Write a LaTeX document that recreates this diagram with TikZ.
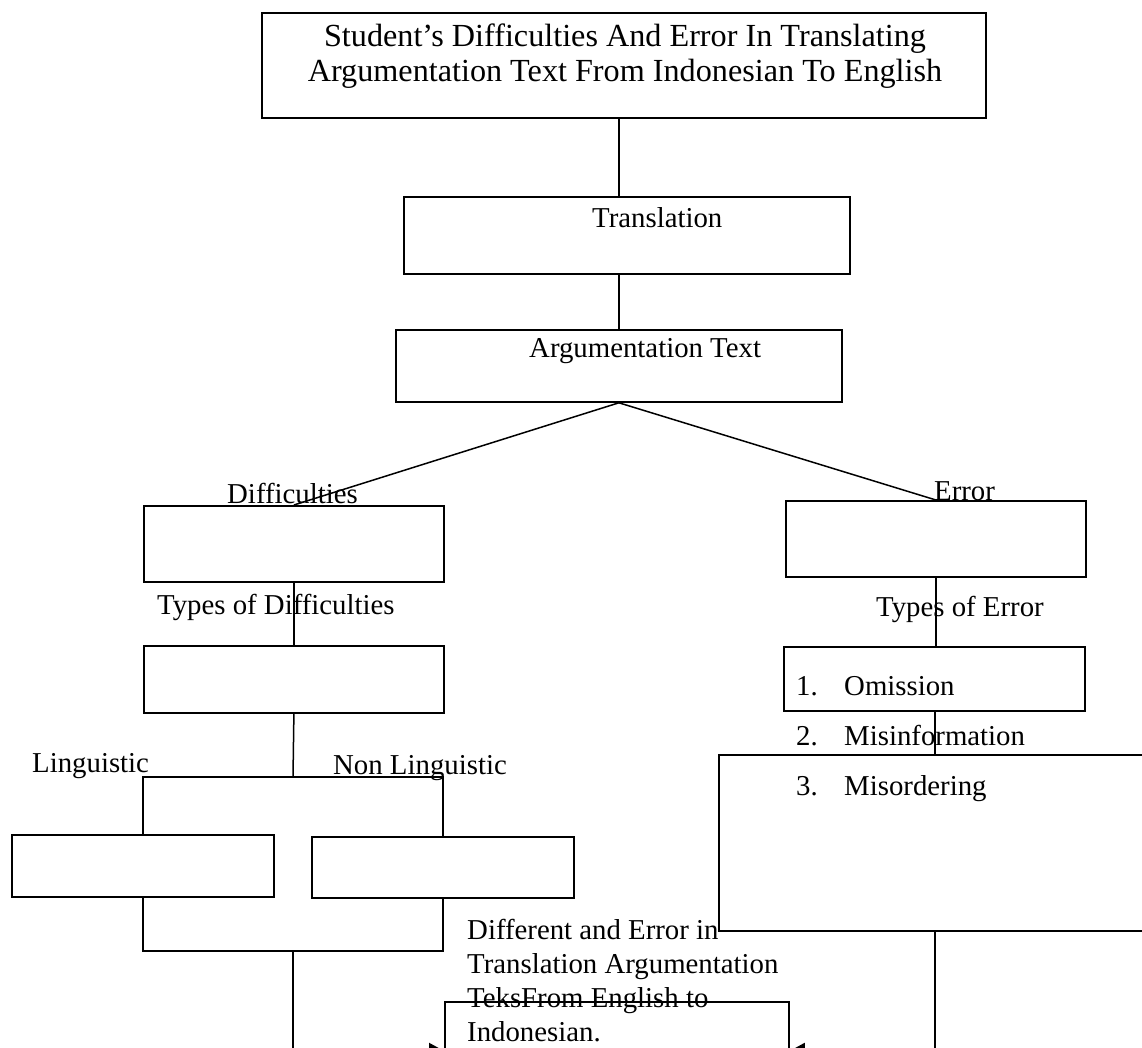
\documentclass[tikz,border=0pt]{standalone}
\usepackage{fontspec}
\setmainfont{Liberation Serif}
\usetikzlibrary{arrows.meta}
\tikzset{
  box/.style={draw, line width=1.8pt, inner sep=0pt, anchor=north west},
  conn/.style={line width=1.5pt},
  lbl/.style={anchor=base west, inner sep=0pt, font=\fontsize{28.8}{34}\selectfont},
  ttl/.style={anchor=base, inner sep=0pt, font=\fontsize{32.2}{35}\selectfont},
  arr/.style={conn, -{Triangle[length=15pt,width=16pt]}}
}
\begin{document}
\begin{tikzpicture}[x=1pt,y=-1pt]
\useasboundingbox (0,0) rectangle (1142,1048);
\fill[white] (0,0) rectangle (1142,1048);
\begin{scope}
\clip (0,0) rectangle (1142,1048);
% boxes
\node[box, minimum width=724pt, minimum height=105pt] (top) at (261,12) {};
\node[box, minimum width=446pt, minimum height=77pt] (trans) at (403,196) {};
\node[box, minimum width=446pt, minimum height=72pt] (arg) at (395,329) {};
\node[box, minimum width=300pt, minimum height=76pt] (diff) at (143,505) {};
\node[box, minimum width=300pt, minimum height=67pt] (tdiff) at (143,645) {};
\node[box, minimum width=262pt, minimum height=62pt] (ling) at (11,834) {};
\node[box, minimum width=262pt, minimum height=61pt] (nonling) at (311,836) {};
\node[box, minimum width=300pt, minimum height=76pt] (err) at (785,500) {};
\node[box, minimum width=301pt, minimum height=64pt] (omis) at (783,646) {};
\node[box, minimum width=500pt, minimum height=176pt] (big) at (718,754) {};
\node[box, minimum width=344pt, minimum height=98pt] (final) at (444,1001) {};
% labels
\node[ttl] (t1) at (625,47) {Student’s Difficulties And Error In Translating};
\node[ttl] (t2) at (625,82) {Argumentation Text From Indonesian To English};
\node[lbl] (ltrans) at (592,228) {Translation};
\node[lbl] (larg) at (529,357) {Argumentation Text};
\node[lbl] (ldiff) at (227,503) {Difficulties};
\node[lbl] (lerr) at (934,500) {Error};
\node[lbl] (ltdiff) at (157,614) {Types of Difficulties};
\node[lbl] (lterr) at (876,616) {Types of Error};
\node[lbl] (lling) at (32,772) {Linguistic};
\node[lbl] (lnonling) at (333,774) {Non Linguistic};
\node[lbl] (n1) at (796,695) {1.};
\node[lbl] (e1) at (844,695) {Omission};
\node[lbl] (n2) at (796,745) {2.};
\node[lbl] (e2) at (844,745) {Misinformation};
\node[lbl] (n3) at (796,795) {3.};
\node[lbl] (e3) at (844,795) {Misordering};
\node[lbl] (f1) at (467,939) {Different and Error in};
\node[lbl] (f2) at (467,973) {Translation Argumentation};
\node[lbl] (f3) at (467,1007) {TeksFrom English to};
\node[lbl] (f4) at (467,1041) {Indonesian.};
% connectors
\draw[conn] (top.south -| 619,0) -- (trans.north -| 619,0);
\draw[conn] (trans.south -| 619,0) -- (arg.north -| 619,0);
\draw[conn] (arg.south) -- (diff.north);
\draw[conn] (arg.south) -- (err.north);
\draw[conn] (diff.south) -- (tdiff.north);
\coordinate (ubm) at (293,777);
\coordinate (ubl) at (143,777);
\coordinate (ubr) at (443,777);
\draw[conn] (tdiff.south) -- (ubm);
\draw[conn] (ling.north -| ubl) -- (ubl) -- (ubr) -- (nonling.north -| ubr);
\coordinate (lbl) at (143,951);
\coordinate (lbr) at (443,951);
\coordinate (lbm) at (293,951);
\draw[conn] (ling.south -| lbl) -- (lbl) -- (lbr) -- (nonling.south -| lbr);
\draw[arr] (lbm) |- (final.west);
\draw[conn] (err.south) -- (omis.north -| err.south);
\draw[conn] (omis.south -| 935,0) -- (big.north -| 935,0);
\draw[arr] (big.south -| 935,0) |- (final.east);
\end{scope}
\end{tikzpicture}
\end{document}
